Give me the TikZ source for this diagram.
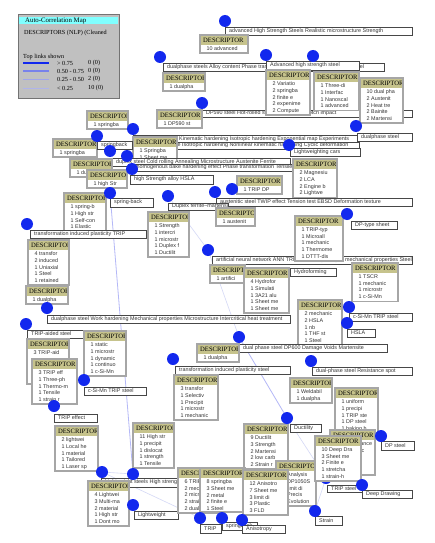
\documentclass[tikz,border=0pt]{standalone}
\usepackage{fontspec}
\setmainfont{Liberation Serif}
\setsansfont{Liberation Sans}
\pgfdeclarelayer{bg}
\pgfsetlayers{bg,main}
\definecolor{dotblue}{RGB}{18,40,238}
\definecolor{hdr}{RGB}{198,195,140}
\definecolor{linkc}{RGB}{212,216,246}
\definecolor{legbg}{RGB}{192,192,192}
\definecolor{legcyan}{RGB}{128,255,255}
\newcommand\hdrfont{\rmfamily\fontsize{6.6}{7}\selectfont}
\newcommand\bodyfont{\sffamily\fontsize{5.4}{6.7}\selectfont}
\newcommand\lblfont{\sffamily\fontsize{5.4}{6}\selectfont}
\newcommand\legfont{\rmfamily\fontsize{6.2}{7}\selectfont}
\tikzset{
 cardbox/.style={rectangle, anchor=north west, fill=white, draw=none, inner sep=0pt, outer sep=0pt},
 cardedge/.style={draw=black!35, line width=1.1pt},
 lblbox/.style={rectangle, anchor=north west, fill=white, draw=none, inner sep=0pt, outer sep=0pt},
 lbledge/.style={draw=black!72, line width=0.7pt},
 hdrtext/.style={anchor=north west, inner sep=0pt, font=\hdrfont},
 bodytext/.style={anchor=north west, inner sep=0pt, font=\bodyfont, align=left, text=black!80},
 lbltext/.style={anchor=west, inner sep=0pt, font=\lblfont, text=black!80},
 dot/.style={circle, fill=dotblue, draw=none, minimum size=12pt, inner sep=0pt},
 link/.style={draw=linkc, line width=0.6pt},
 strong link/.style={draw=linkc!85!blue, line width=0.8pt},
 legtext/.style={anchor=west, inner sep=0pt, font=\legfont},
}
\newcommand\card[6]{%
\node[cardbox, minimum width=#4pt, minimum height=#5pt] (#1) at (#2,#3) {};
\begin{scope}
\clip (#1.north west) rectangle (#1.south east);
\fill[hdr] ([shift={(0.9,0.9)}]#1.north west) rectangle ([shift={(-0.9,9.8)}]#1.north east);
\node[hdrtext] (#1h) at ([shift={(3,3.2)}]#1.north west) {DESCRIPTOR};
\node[bodytext] (#1b) at ([shift={(6.5,11.6)}]#1.north west) {#6};
\end{scope}
\draw[cardedge] (#1.north west) rectangle (#1.south east);}
\newcommand\lbl[6]{%
\node[lblbox, minimum width=#4pt, minimum height=#5pt] (#1) at (#2,#3) {};
\begin{scope}
\clip (#1.north west) rectangle (#1.south east);
\node[lbltext] (#1t) at ([xshift=4pt]#1.west) {#6};
\end{scope}
\draw[lbledge] (#1.north west) rectangle (#1.south east);}
\begin{document}
\begin{tikzpicture}[x=1pt,y=-1pt]
\useasboundingbox (0,0) rectangle (434,543);
\begin{pgfonlayer}{bg}
\fill[white] (0,0) rectangle (434,543);
\end{pgfonlayer}
% legend
\node[anchor=north west, fill=legbg, draw=black!55, line width=1pt, minimum width=101pt, minimum height=84pt, inner sep=0pt] (legend) at (18,14) {};
\node[anchor=north west, fill=legcyan, minimum width=99pt, minimum height=7.5pt, inner sep=0pt] (leghead) at (19,16.5) {};
\node[anchor=west, inner sep=0pt, font=\rmfamily\fontsize{6.8}{8}\selectfont] (legtitle) at (25,20.5) {Auto-Correlation Map};
\node[legtext] (legsub) at (24,33) {DESCRIPTORS (NLP) (Cleaned};
\node[legtext] (legtop) at (23,57) {Top links shown};
\coordinate (la1) at (23,63); \coordinate (lb1) at (49,63);
\coordinate (la2) at (23,71); \coordinate (lb2) at (49,71);
\coordinate (la3) at (23,79); \coordinate (lb3) at (49,79);
\coordinate (la4) at (23,88); \coordinate (lb4) at (49,88);
\draw[dotblue, line width=2pt] (la1) -- (lb1);
\draw[color={rgb,255:red,120;green,130;blue,235}, line width=1.5pt] (la2) -- (lb2);
\draw[color={rgb,255:red,160;green,165;blue,235}, line width=0.9pt] (la3) -- (lb3);
\draw[color={rgb,255:red,175;green,180;blue,235}, line width=0.6pt] (la4) -- (lb4);
\node[legtext] (lr1) at (57,63) {> 0.75};
\node[legtext] (lr2) at (57,71) {0.50 - 0.75};
\node[legtext] (lr3) at (57,79) {0.25 - 0.50};
\node[legtext] (lr4) at (57,88) {< 0.25};
\node[legtext] (lc1) at (88,63) {0 (0)};
\node[legtext] (lc2) at (88,71) {0 (0)};
\node[legtext] (lc3) at (88,79) {2 (0)};
\node[legtext] (lc4) at (88,88) {10 (0)};
% top groups
\lbl{l1}{225}{27}{187}{8}{advanced High Strength Steels Realistic microstructure Strength}
\card{c1}{200}{35}{48}{18}{10 advanced}
\lbl{l2}{163}{63}{221}{8}{dualphase steels Alloy content Phase transformation Advanced high strength steel}
\card{c2}{163}{73}{42}{18}{1 dualpha}
\lbl{l3}{266}{61}{93}{9}{Advanced high strength steel}
\lbl{l6}{202}{110}{210}{7}{DP590 steel Hot-rolled steel Microalloy V-notch impact}
\card{c6}{157}{110}{45}{18}{1 DP590 st}
\card{c3}{266}{70}{44}{45}{2 Variatio\\2 springba\\2 finite e\\2 expenime\\2 Compute}
\card{c4}{314}{72}{45}{38.5}{1 Three-di\\1 Interfac\\1 Nanoscal\\1 advanced}
\card{c5}{360}{78}{43}{45}{10 dual pha\\2 Austenit\\2 Heat tre\\2 Bainite\\2 Martensi}
\lbl{l7}{357}{133}{55}{8}{dualphase steel}
\card{c7}{87}{111}{41}{18}{1 springba}
\lbl{lkin}{133}{135}{224}{8}{dualphase steels Kinematic hardening Isotropic hardening Exponential map Experiments}
\lbl{lrow2}{150}{142}{209}{7}{DualPhase Isotropic hardening Nonlinear kinematic hardening Cyclic deformation}
\card{c8}{133}{137}{44}{25}{1 Springba\\1 Sheet me}
\lbl{llc}{290}{148}{70}{8}{Lightweighting cars}
\card{cA}{53}{139}{44}{18}{1 springba}
\lbl{lsb}{97}{141}{35}{8}{springback}
\lbl{ldx}{112}{158}{178}{8}{duplex steel Cold rolling Annealing Microstructure Austenite Ferrite}
\card{cB}{70}{159}{42}{18}{1 duplex s}
\lbl{lrow4}{128}{164}{165}{7}{Inhomogenous bake hardening effect Phase transformation Tensile strength}
\card{cK}{293}{159}{44}{38.5}{2 Magnesiu\\2 LCA\\2 Engine b\\2 Lightwe}
\card{cC}{87}{170}{40}{18}{1 high Str}
\lbl{lhs}{130}{175}{83}{9}{high Strength alloy HSLA}
\card{cG}{237}{176}{45}{18}{1 TRIP DP}
\lbl{lau}{216}{198}{196}{8}{austenitic steel TWIP effect Tension test EBSD Deformation texture}
\lbl{ldf}{168}{203}{60}{7}{Duplex ferrite--martensite}
\card{cH}{216}{208}{39}{18}{1 austenit}
\card{cD}{64}{193}{42}{38.5}{1 spring-b\\1 High str\\1 Self-con\\1 Elastic}
\lbl{lsb2}{110}{198}{43}{9}{spring-back}
\lbl{ltr}{30}{230}{116}{8}{transformation induced plasticity TRIP}
\card{cE}{28}{240}{41}{45}{4 transfor\\2 induced\\1 Uniaxial\\1 Steel\\1 retained}
\card{cF}{148}{212}{41}{45}{1 Strength\\1 intercri\\1 microstr\\1 Duplex f\\1 Ductilit}
\lbl{ldt}{351}{221}{46}{8}{DP-type sheet}
\lbl{lann}{212}{256}{200}{8}{artificial neural network ANN TRIP steel Alloy Fatigue mechanical properties Steel}
\card{cL}{295}{216}{48}{45}{1 TRIP-typ\\1 Microall\\1 mechanic\\1 Thermome\\1 DTTT-dis}
\card{cI}{210}{265}{35}{18}{1 artifici}
\card{cJ}{244}{268}{45}{45}{4 Hydrofor\\1 Simulati\\1 3A21 alu\\1 Sheet me\\1 Sheet me}
\lbl{lhy}{290}{268}{46}{8}{Hydroforming}
\card{cM}{352}{263}{46}{38.5}{1 TSCR\\1 mechanic\\1 microstr\\1 c-Si-Mn}
\card{cN}{26}{286}{42}{18}{1 dualpha}
\lbl{lwh}{47}{315}{243}{8}{dualphase steel Work hardening Mechanical properties Microstructure Intercritical heat treatment}
\lbl{lta}{27}{330}{56}{8}{TRIP-aided steel}
\card{cO}{27}{339}{42}{45}{3 TRIP-aid}
\card{cQ}{84}{331}{42}{45}{1 static\\1 microstr\\1 dynamic\\1 continuo\\1 c-Si-Mn}
\card{cP}{32}{359}{45}{45}{3 TRIP eff\\1 Three-ph\\1 Thermo-m\\1 Tensile\\1 strain r}
\lbl{lcs}{84}{387}{62}{8}{c-Si-Mn TRIP steel}
\card{cT}{298}{300}{44}{45}{2 mechanic\\2 HSLA\\1 nb\\1 THF st\\1 Steel}
\lbl{lcs2}{349}{313}{63}{8}{c-Si-Mn TRIP steel}
\lbl{lhsla}{347}{329}{28}{8}{HSLA}
\lbl{ldp6}{239}{344}{148}{8}{dual phase steel DP600 Damage Voids Martensite}
\card{cR}{197}{344}{42}{18}{1 dualpha}
\lbl{ltips}{175}{366}{115}{8}{transformation induced plasticity steel}
\card{cS}{174}{375}{44}{45}{3 transfor\\1 Selectiv\\1 Precipit\\1 microstr\\1 mechanic}
\lbl{lrs}{312}{367}{100}{8}{dual-phase steel Resistance spot}
\card{cU}{290}{378}{42}{25}{1 Weldabil\\1 dualpha}
\card{cV}{335}{388}{43}{45}{1 uniform\\1 precipi\\1 TRIP ste\\1 DP steel\\1 baking h}
\lbl{lte}{54}{414}{43}{8}{TRIP effect}
\card{cW}{55}{426}{43}{45}{2 lightwei\\1 Local he\\1 material\\1 Tailored\\1 Laser sp}
\card{cY}{133}{423}{41}{45}{11 High str\\1 precipit\\1 dislocat\\1 strength\\1 Tensile}
\lbl{lduc}{290}{424}{31}{8}{Ductility}
\card{cZ3}{244}{424}{44}{45}{9 Ductilit\\3 Strength\\2 Martensi\\2 low carb\\2 Strain r}
\card{cZ6}{330}{430}{45}{45}{1 Performance\\1 Mechanic\\1 Yield\\1 Tensiles}
\lbl{ldps}{381}{441}{33}{9}{DP steel}
\lbl{lhss}{101}{478}{77}{9}{Lightweight steels High strength steel}
\card{cX}{88}{481}{41}{45}{4 Lightwei\\3 Multi-ma\\2 material\\1 High str\\1 Dont mo}
\lbl{llw}{134}{511}{44}{8}{Lightweight}
\card{cZ5}{276}{461}{40}{45}{1 Analysis\\1 DP1050S\\1 limit di\\1 Precis\\1 Evolution}
\node[dot] (dts) at (326,478) {};
\card{cDD}{315}{436}{46}{45}{10 Deep Dra\\3 Sheet me\\2 Finite e\\1 stretcha\\1 strain-h}
\lbl{lts}{327}{485}{35}{7}{TRIP steel}
\lbl{ldd}{362}{490}{50}{8}{Deep Drawing}
\lbl{lst}{315}{516}{27}{9}{Strain}
\card{cZ1}{178}{468}{44}{45}{6 TRIP ste\\2 mechanic\\2 microstr\\2 strain r\\2 dual pha}
\card{cZ2}{200}{468}{45}{44}{8 springba\\3 Sheet me\\2 metal\\2 finite e\\1 Steel}
\card{cZ4}{243}{470}{45}{45}{12 Anisotro\\7 Sheet me\\3 limit di\\3 Plastic\\3 FLD}
\lbl{ltrip}{200}{524}{21}{9}{TRIP}
\lbl{lspr}{222}{522}{35}{8}{springback}
\lbl{lani}{242}{525}{43}{8}{Anisotropy}
% dots
\node[dot] (d1) at (225,21) {};
\node[dot] (d2) at (160,57) {};
\node[dot] (d3a) at (266,55) {};
\node[dot] (d3b) at (313,56) {};
\node[dot] (d6) at (202,103) {};
\node[dot] (d7) at (356,126) {};
\node[dot] (dkin) at (133,129) {};
\node[dot] (dsb) at (97,136) {};
\node[dot] (dlc) at (289,145) {};
\node[dot] (ddx) at (110,151) {};
\node[dot] (drow4) at (127,156) {};
\node[dot] (dhs) at (132,169) {};
\node[dot] (dsb2) at (110,193) {};
\node[dot] (dtr) at (27,224) {};
\node[dot] (ddf) at (168,196) {};
\node[dot] (dau) at (215,192) {};
\node[dot] (dtd) at (232,189) {};
\node[dot] (dann) at (208,250) {};
\node[dot] (ddt) at (347,214) {};
\node[dot] (dwh) at (47,308) {};
\node[dot] (dta) at (26,324) {};
\node[dot] (dcs) at (84,380) {};
\node[dot] (dte) at (54,406) {};
\node[dot] (ddp6) at (239,337) {};
\node[dot] (dtips) at (173,359) {};
\node[dot] (dcs2) at (349,307) {};
\node[dot] (dhsla) at (347,323) {};
\node[dot] (drs) at (311,361) {};
\node[dot] (dduc) at (287,418) {};
\node[dot] (ddps) at (381,436) {};
\node[dot] (ddd) at (362,485) {};
\node[dot] (dst) at (315,511) {};
\node[dot] (dlw1) at (102,472) {};
\node[dot] (dlw2) at (133,474) {};
\node[dot] (dlw3) at (133,505) {};
\node[dot] (dtrip) at (200,518) {};
\node[dot] (dspr) at (222,518) {};
\node[dot] (dani) at (242,520) {};
% links
\begin{pgfonlayer}{bg}
\draw[strong link] (dsb2) -- (dlw2);
\draw[link] (dlw1) -- (dlw2);
\draw[link] (dlw1) -- (dtrip);
\draw[strong link] (ddp6) -- (dduc);
\draw[link] (dann) -- (ddp6);
\draw[link] (ddf) -- (dann);
\draw[link] (dduc) -- (dts);
\draw[link] (dst) -- (dts);
\end{pgfonlayer}
\end{tikzpicture}
\end{document}
